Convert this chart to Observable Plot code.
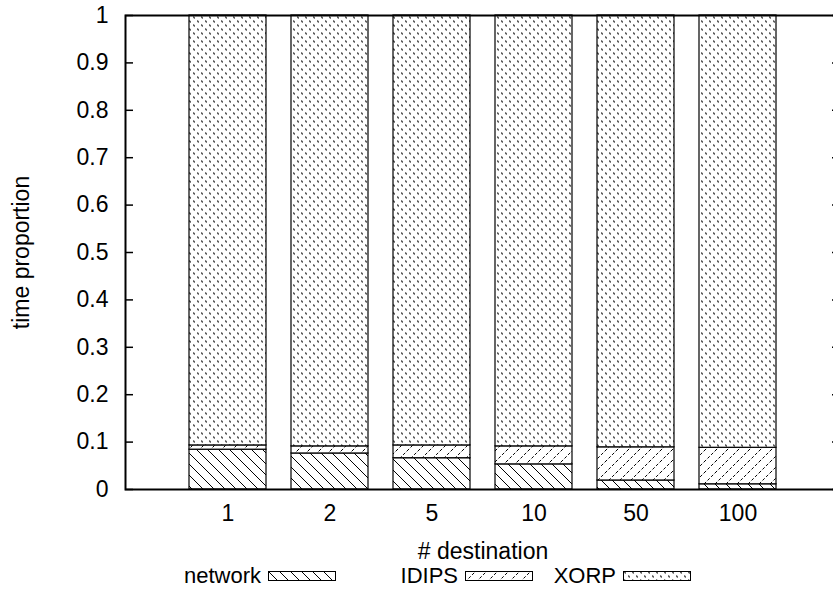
<!DOCTYPE html>
<html><head><meta charset="utf-8">
<script src="https://cdn.jsdelivr.net/npm/d3@7"></script>
<script src="https://cdn.jsdelivr.net/npm/@observablehq/plot@0.6"></script>
<style>
body{margin:0;background:#fff;overflow:hidden;font-family:"Liberation Sans",Arial,sans-serif;}
#legend{position:relative;height:30px;width:833px;font-size:22px;}
#legend .lab{position:absolute;top:-1px;line-height:23px;text-align:right;white-space:nowrap;}
#legend svg{position:absolute;}
</style>
</head><body>
<div id="chart"></div>
<div id="legend"></div>
<script>
const categories = ["1", "2", "5", "10", "50", "100"];
const seriesNames = ["network", "IDIPS", "XORP"];
const networkValues = [0.084, 0.076, 0.066, 0.053, 0.019, 0.011];
const idipsValues   = [0.009, 0.015, 0.027, 0.038, 0.070, 0.077];
const xorpValues    = [0.907, 0.909, 0.907, 0.909, 0.911, 0.912];
const yTicks = [0, 0.1, 0.2, 0.3, 0.4, 0.5, 0.6, 0.7, 0.8, 0.9, 1];
const yTickLabels = ["0", "0.1", "0.2", "0.3", "0.4", "0.5", "0.6", "0.7", "0.8", "0.9", "1"];

const patternIds = ["pat-network", "pat-idips", "pat-xorp"];
const rows = [];
categories.forEach((c, i) => {
  rows.push({cat: c, series: seriesNames[0], value: networkValues[i]});
  rows.push({cat: c, series: seriesNames[1], value: idipsValues[i]});
  rows.push({cat: c, series: seriesNames[2], value: xorpValues[i]});
});

const W = 833, H = 565, mL = 125, mR = -7, mT = 15, mB = 76;
const frameW = W - mL - mR;
const FS = 23;

const chart = Plot.plot({
  width: W, height: H,
  marginLeft: mL, marginRight: mR, marginTop: mT, marginBottom: mB,
  style: {fontFamily: '"Liberation Sans", Arial, sans-serif', fontSize: FS + "px", color: "black", background: "white"},
  x: {domain: categories, paddingInner: 0.25, paddingOuter: 0.625, axis: null},
  y: {domain: [0, 1], axis: null},
  color: {domain: seriesNames, range: patternIds.map(id => `url(#${id})`)},
  marks: [
    Plot.barY(rows, {x: "cat", y: "value", fill: "series", stroke: "black", strokeWidth: 1.2}),
    Plot.tickY(yTicks, {y: d => d, stroke: "black", strokeWidth: 1.5, insetRight: frameW - 8}),
    Plot.tickY(yTicks, {y: d => d, stroke: "black", strokeWidth: 1.5, insetLeft: frameW - 8}),
    Plot.frame({stroke: "black", strokeWidth: 2}),
    Plot.axisY(yTicks, {tickSize: 0, tickPadding: 17, label: null, fontSize: FS,
      tickFormat: d => yTickLabels[yTicks.indexOf(d)]}),
    Plot.axisX({tickSize: 0, tickPadding: 15, label: null, fontSize: FS}),
    Plot.text(["# destination"], {frameAnchor: "bottom", dy: 62, lineAnchor: "middle", textAnchor: "middle", fontSize: FS, fill: "black"}),
    Plot.text(["time proportion"], {frameAnchor: "left", dx: -104, rotate: -90, lineAnchor: "middle", textAnchor: "middle", fontSize: FS, fill: "black"})
  ]
});

// patterns
const ns = "http://www.w3.org/2000/svg";
const defs = document.createElementNS(ns, "defs");
defs.innerHTML = `
<pattern id="pat-network" patternUnits="userSpaceOnUse" width="11" height="11">
  <rect width="11" height="11" fill="white"/>
  <path d="M0,0 L11,11 M-2,9 L2,13 M9,-2 L13,2" stroke="black" stroke-width="1"/>
</pattern>
<pattern id="pat-idips" patternUnits="userSpaceOnUse" width="11" height="11">
  <rect width="11" height="11" fill="white"/>
  <path d="M0,11 L11,0 M-2,2 L2,-2 M9,13 L13,9" stroke="black" stroke-width="1" stroke-dasharray="3,2"/>
</pattern>
<pattern id="pat-xorp" patternUnits="userSpaceOnUse" width="8" height="8">
  <rect width="8" height="8" fill="white"/>
  <path d="M1.5,0.5 L2.5,2.5 M5.5,4.5 L6.5,6.5" stroke="black" stroke-width="1.1"/>
</pattern>`;
chart.insertBefore(defs, chart.firstChild);
document.getElementById("chart").appendChild(chart);

// legend
const legend = document.getElementById("legend");
const swatchX = [268, 465, 623];
seriesNames.forEach((name, i) => {
  const lab = document.createElement("div");
  lab.className = "lab";
  lab.textContent = name;
  lab.style.right = (W - swatchX[i] + 7) + "px";
  legend.appendChild(lab);
  const sw = document.createElementNS(ns, "svg");
  sw.setAttribute("width", 68); sw.setAttribute("height", 10);
  sw.style.left = swatchX[i] + "px"; sw.style.top = "6px";
  sw.innerHTML = `<rect x="0.5" y="0.5" width="67" height="9" fill="url(#${patternIds[i]})" stroke="black" stroke-width="1"/>`;
  legend.appendChild(sw);
});
</script>
</body></html>
